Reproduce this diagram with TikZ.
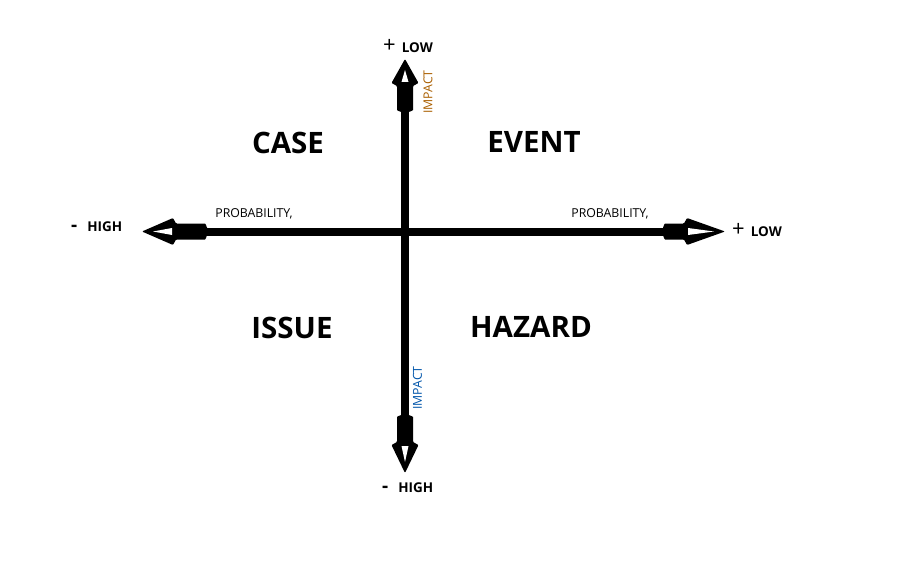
\documentclass[tikz,border=0pt]{standalone}
\usepackage{fontspec}
\setmainfont{Open Sans}
\definecolor{impactorange}{RGB}{170,95,0}
\definecolor{impactblue}{RGB}{0,85,170}
\tikzset{
  pics/axhead/.style 2 args={code={
    \fill[black, rounded corners=1pt] (0,0) -- (-#1,13.5) -- (-#1-3,8)
      -- (-#2+3,8) to[out=180,in=90] (-#2,5) -- (-#2,-5) to[out=-90,in=180] (-#2+3,-8)
      -- (-#1-3,-8) -- (-#1,-13.5) -- cycle;
    \fill[white] (-11,0) -- (-#1+1,3.5) -- (-#1+1,-3.5) -- cycle;
  }},
  axisline/.style={line width=8pt, black},
  quad/.style={font=\fontsize{29.5}{31}\selectfont\bfseries, inner sep=0pt},
  small/.style={font=\fontsize{12.3}{14}\selectfont, inner sep=0pt},
  endlabel/.style={font=\fontsize{13.5}{15}\selectfont\bfseries, inner sep=0pt},
}
\newcommand{\plussign}{{\fontsize{22}{22}\selectfont\mdseries +}}
\newcommand{\minussign}{{\fontsize{19}{19}\selectfont\bfseries -}}
\begin{document}
\begin{tikzpicture}[x=1pt,y=-1pt]
\useasboundingbox (0,0) rectangle (917,567);
% axis coordinates
\coordinate (top) at (405,59);
\coordinate (bot) at (405,473);
\coordinate (lft) at (142,231.5);
\coordinate (rgt) at (725,231.5);
\coordinate (topin) at (405,105);
\coordinate (botin) at (405,420);
\coordinate (lftin) at (200,231.5);
\coordinate (rgtin) at (670,231.5);
% axes
\draw[axisline] (topin) -- (botin);
\draw[axisline] (lftin) -- (rgtin);
\pic[rotate=90] at (top) {axhead={24}{53}};
\pic[rotate=-90] at (bot) {axhead={28}{58}};
\pic[rotate=180] at (lft) {axhead={31}{65}};
\pic at (rgt) {axhead={38}{62}};
% quadrant labels
\node[quad] (case) at (288,143) {CASE};
\node[quad] (event) at (534,142) {EVENT};
\node[quad] (issue) at (292,328) {ISSUE};
\node[quad] (hazard) at (531,327) {HAZARD};
% axis labels
\node[small] (probl) at (254,213.5) {PROBABILITY,};
\node[small] (probr) at (610,213.5) {PROBABILITY,};
\node[small, rotate=90, text=impactorange] (impt) at (428,92) {IMPACT};
\node[small, rotate=90, text=impactblue] (impb) at (417.5,388) {IMPACT};
% end labels
\node[endlabel, anchor=west] (toplow) at (383,46) {\plussign\hspace{6pt}LOW};
\node[endlabel, anchor=west] (lefthigh) at (71,226.5) {\minussign\hspace{10pt}HIGH};
\node[endlabel, anchor=west] (rightlow) at (732,230) {\plussign\hspace{6pt}LOW};
\node[endlabel, anchor=west] (bothigh) at (382,488) {\minussign\hspace{10pt}HIGH};
\end{tikzpicture}
\end{document}
